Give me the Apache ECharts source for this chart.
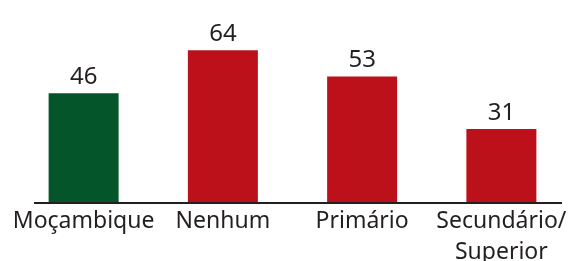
<!DOCTYPE html>
<html>
<head>
<meta charset="utf-8">
<script src="https://cdn.jsdelivr.net/npm/echarts@6/dist/echarts.min.js"></script>
<style>
  html, body { margin: 0; padding: 0; background: #fff; }
  #chart { width: 569px; height: 261px; }
</style>
</head>
<body>
<div id="chart"></div>
<script>
var categories = ['Moçambique', 'Nenhum', 'Primário', 'Secundário/\nSuperior'];
var values = [46, 64, 53, 31];
var barColors = ['#04562a', '#bc111b', '#bc111b', '#bc111b'];

var chart = echarts.init(document.getElementById('chart'));

chart.setOption({
    animation: false,
    textStyle: { fontFamily: 'Noto Sans' },
    grid: { left: 14, width: 557, top: 12, bottom: 58, outerBoundsMode: 'none', containLabel: false },
    xAxis: {
        type: 'category',
        data: categories,
        axisLine: { show: false },
        axisTick: { show: false },
        axisLabel: {
            color: '#231f20',
            fontSize: 23,
            lineHeight: 31,
            margin: 3,
            interval: 0
        }
    },
    yAxis: {
        type: 'value',
        min: 0,
        max: 80,
        show: false
    },
    // axis line spans a bit narrower than the category band
    graphic: [{
        type: 'line',
        shape: { x1: 34, y1: 203, x2: 562, y2: 203 },
        style: { stroke: '#231f20', lineWidth: 2 },
        z: 10
    }],
    series: [{
        type: 'bar',
        barWidth: 70,
        data: values.map(function (v, i) {
            return { value: v, itemStyle: { color: barColors[i] } };
        }),
        label: {
            show: true,
            position: 'top',
            distance: 4,
            color: '#231f20',
            fontSize: 24
        }
    }]
});
</script>
</body>
</html>
